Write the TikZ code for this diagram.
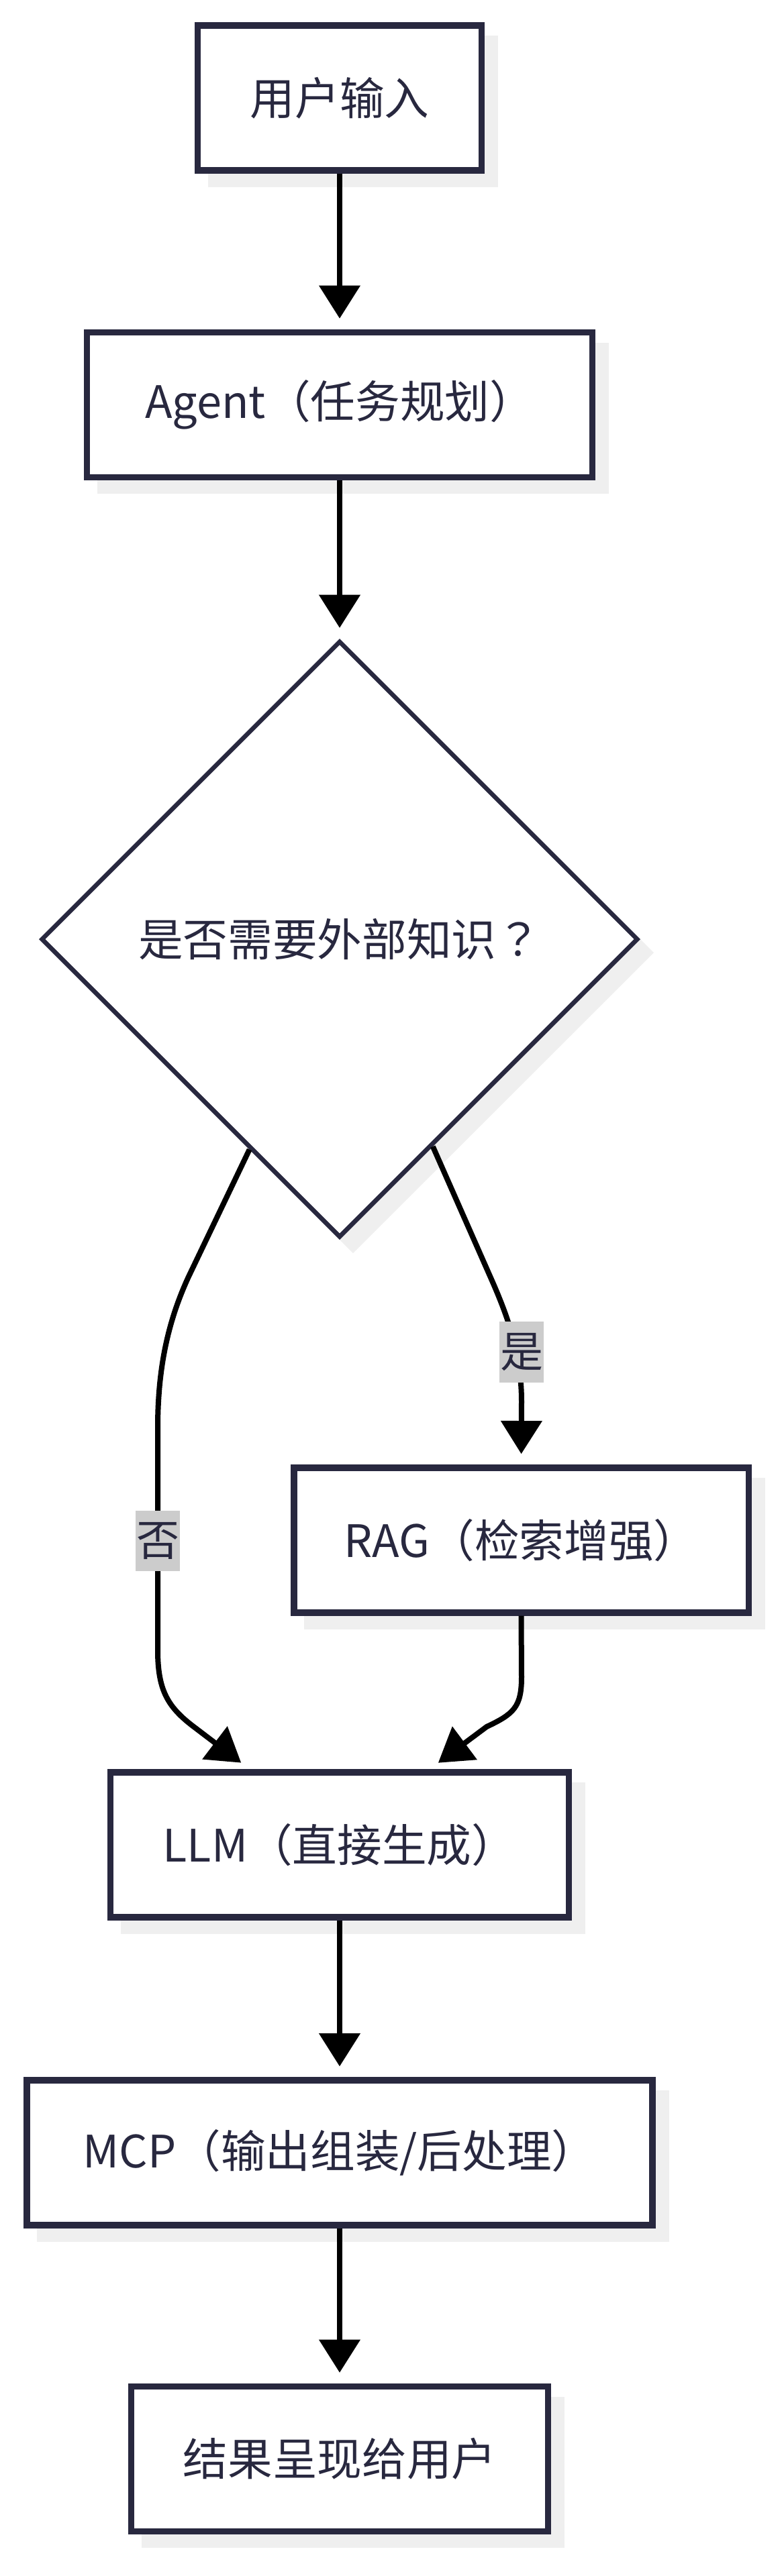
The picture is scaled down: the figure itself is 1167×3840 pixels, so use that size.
\documentclass[tikz,border=0pt]{standalone}
\usepackage{fontspec}
\setmainfont{Noto Sans CJK SC}
\newfontfamily\tcfont{Noto Sans CJK TC}
\usetikzlibrary{arrows.meta,shapes.geometric,shadows,calc}
\definecolor{ink}{HTML}{28283F}
\definecolor{shade}{HTML}{EFEFEF}
\definecolor{lblgray}{HTML}{CCCCCC}
\begin{document}
\begin{tikzpicture}[x=0.75pt,y=-0.75pt,
  box/.style={draw=ink,line width=7pt,fill=white,text=ink,
    font=\fontsize{50pt}{60pt}\selectfont,minimum height=162pt,inner sep=0pt,
    drop shadow={shadow xshift=15pt,shadow yshift=-15pt,fill=shade,draw=shade,opacity=1}},
  decision/.style={diamond,aspect=1,draw=ink,line width=5pt,fill=white,text=ink,
    font=\fontsize{50pt}{60pt}\selectfont,minimum width=667pt,minimum height=667pt,inner sep=0pt,
    drop shadow={shadow xshift=15pt,shadow yshift=-15pt,fill=shade,draw=shade,opacity=1}},
  conn/.style={draw=black,line width=6pt,-{Triangle[length=37pt,width=45pt]},shorten >=12pt},
  lbl/.style={fill=lblgray,text=ink,font=\fontsize{48pt}{58pt}\selectfont,inner xsep=1pt,inner ysep=13pt}
]
\useasboundingbox (0,0) rectangle (1167,3840);

\node[box,minimum width=317pt] (in) at (506,146) {用户输入};
\node[box,minimum width=565pt] (agent) at (506,603.5) {Agent（任务规划）};
\node[decision] (dec) at (506,1400) {是否需要外部知识{\tcfont ？}};
\node[box,minimum width=508pt] (rag) at (776.5,2296) {RAG（检索增强）};
\node[box,minimum width=512pt] (llm) at (506,2750) {LLM（直接生成）};
\node[box,minimum width=699pt] (mcp) at (506,3209) {MCP（输出组装/后处理）};
\node[box,minimum width=466pt] (out) at (506,3665.5) {结果呈现给用户};

\coordinate (noStart) at ($(dec.west)!0.7!(dec.south)$);
\coordinate (yesStart) at ($(dec.east)!0.69!(dec.south)$);
\coordinate (noEnd) at ($(llm.north)+(-134,0)$);
\coordinate (ragEnd) at ($(llm.north)+(134,0)$);

\draw[conn] (in.south) -- (agent.north);
\draw[conn] (agent.south) -- (dec.north);
\draw[conn] (noStart) -- (281,1903) .. controls (250,1970) and (235,2040) .. (235,2128)
  -- (235,2460) .. controls (235,2520) and (250,2545) .. (290,2575) -- (noEnd);
\draw[conn] (yesStart) -- (729,1900) .. controls (758,1965) and (777,2020) .. (777,2090) -- (rag.north);
\draw[conn] (rag.south) -- (777,2500) .. controls (777,2545) and (765,2555) .. (725,2574) -- (ragEnd);
\draw[conn] (llm.south) -- (mcp.north);
\draw[conn] (mcp.south) -- (out.north);

\node[lbl] (nolbl) at (235,2297) {否};
\node[lbl] (yeslbl) at (777,2015) {是};
\end{tikzpicture}
\end{document}
